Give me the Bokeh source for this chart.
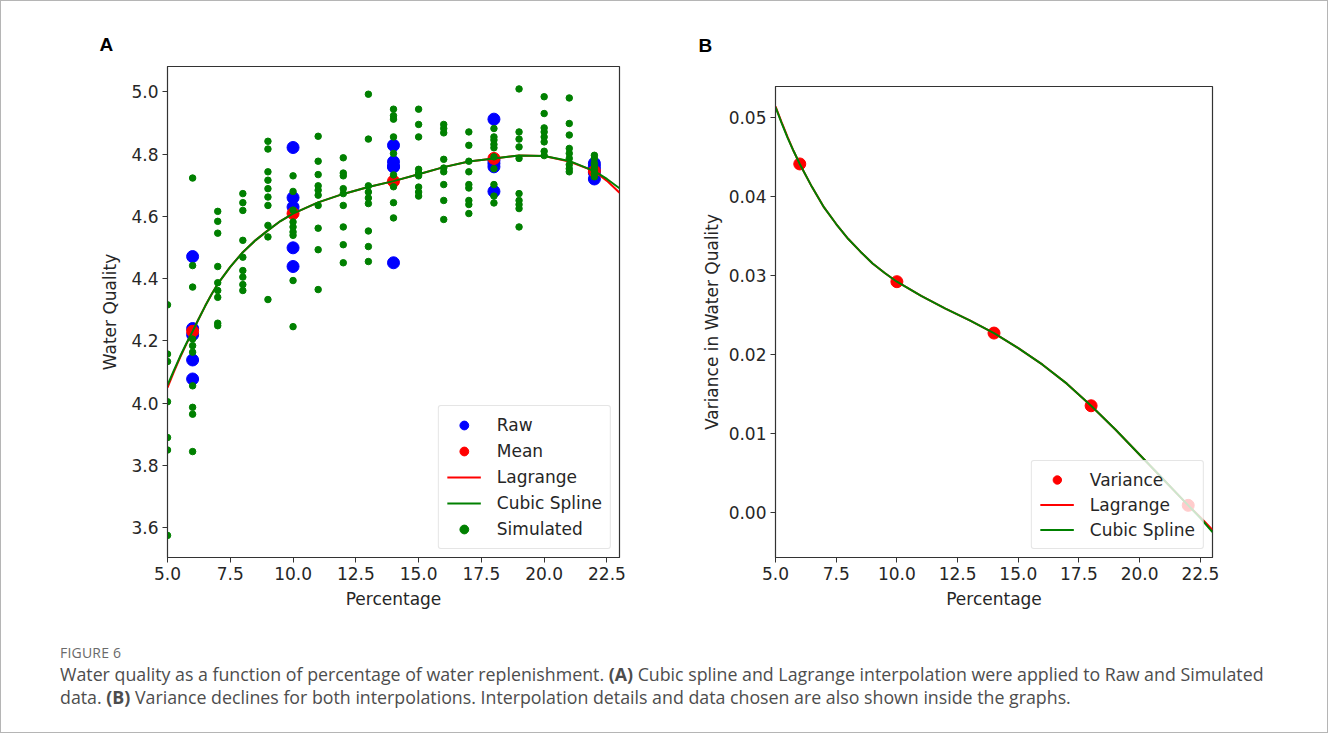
from bokeh.plotting import figure
from bokeh.models import Range1d, FixedTicker, NumeralTickFormatter, Div
from bokeh.layouts import row, column
from bokeh.embed import file_html
from bokeh.resources import INLINE

# ---------------- Panel A data ----------------
sim_pct = ([5] * 7 + [6] * 10 + [7] * 9 + [8] * 9 + [9] * 10 + [10] * 9 + [11] * 10 +
           [12] * 9 + [13] * 9 + [14] * 9 + [15] * 9 + [16] * 9 + [17] * 9 + [18] * 10 +
           [19] * 10 + [20] * 8 + [21] * 9 + [22] * 7)
sim_quality = [
    4.316, 4.158, 4.134, 4.005, 3.890, 3.850, 3.576,
    4.723, 4.442, 4.373, 4.206, 4.185, 4.164, 4.056, 3.987, 3.965, 3.845,
    4.616, 4.584, 4.546, 4.439, 4.387, 4.362, 4.340, 4.257, 4.249,
    4.673, 4.644, 4.619, 4.523, 4.469, 4.426, 4.405, 4.381, 4.362,
    4.841, 4.816, 4.743, 4.716, 4.689, 4.662, 4.635, 4.571, 4.534, 4.333,
    4.730, 4.680, 4.620, 4.582, 4.566, 4.550, 4.539, 4.394, 4.246,
    4.857, 4.777, 4.734, 4.698, 4.684, 4.668, 4.635, 4.562, 4.493, 4.365,
    4.788, 4.739, 4.730, 4.689, 4.673, 4.635, 4.566, 4.509, 4.451,
    4.992, 4.848, 4.698, 4.678, 4.659, 4.641, 4.553, 4.503, 4.455,
    4.944, 4.923, 4.912, 4.855, 4.802, 4.733, 4.695, 4.644, 4.595,
    4.944, 4.895, 4.855, 4.751, 4.739, 4.730, 4.694, 4.678, 4.665,
    4.895, 4.882, 4.868, 4.783, 4.755, 4.743, 4.702, 4.651, 4.590,
    4.871, 4.828, 4.777, 4.743, 4.702, 4.691, 4.651, 4.638, 4.609,
    4.882, 4.855, 4.845, 4.831, 4.820, 4.791, 4.753, 4.702, 4.665, 4.643,
    5.009, 4.871, 4.848, 4.823, 4.786, 4.673, 4.651, 4.638, 4.625, 4.566,
    4.984, 4.930, 4.884, 4.871, 4.855, 4.839, 4.809, 4.795,
    4.980, 4.898, 4.861, 4.818, 4.802, 4.786, 4.766, 4.753, 4.743,
    4.796, 4.786, 4.770, 4.759, 4.748, 4.737, 4.727,
]
raw_pct = [6] * 5 + [10] * 5 + [14] * 5 + [18] * 5 + [22] * 5
raw_quality = [
    4.471, 4.139, 4.078, 4.220, 4.240,
    4.821, 4.660, 4.499, 4.439, 4.630,
    4.828, 4.775, 4.759, 4.451, 4.760,
    4.912, 4.759, 4.680, 4.770, 4.780,
    4.760, 4.740, 4.720, 4.750, 4.770,
]
mean_pct = [6, 10, 14, 18, 22]
mean_quality = [4.231, 4.609, 4.713, 4.786, 4.745]

curveA_pct = [5, 5.25, 5.5, 5.75, 6, 6.25, 6.5, 6.75, 7, 7.5, 8, 8.5, 9, 9.5, 10,
              11, 12, 13, 14, 15, 16, 17, 18, 19, 20, 21, 22, 22.5, 23]
splineA = [4.058, 4.105, 4.150, 4.192, 4.231, 4.272, 4.312, 4.349, 4.383, 4.438,
           4.485, 4.523, 4.555, 4.585, 4.609, 4.645, 4.672, 4.694, 4.713, 4.735,
           4.758, 4.776, 4.786, 4.795, 4.794, 4.778, 4.745, 4.720, 4.690]
lagrangeA = [4.050, 4.100, 4.147, 4.190, 4.231, 4.272, 4.312, 4.349, 4.383, 4.438,
             4.485, 4.523, 4.555, 4.585, 4.609, 4.645, 4.672, 4.694, 4.713, 4.735,
             4.758, 4.776, 4.786, 4.795, 4.794, 4.776, 4.745, 4.714, 4.676]

# ---------------- Panel B data ----------------
var_pct = [6, 10, 14, 18, 22]
var_value = [0.0441, 0.0292, 0.0227, 0.0135, 0.0009]
curveB_pct = [5, 5.25, 5.5, 5.75, 6, 6.5, 7, 7.5, 8, 8.5, 9, 9.5, 10, 11, 12, 13,
              14, 15, 16, 17, 18, 19, 20, 21, 22, 22.5, 23]
splineB = [0.0513, 0.0493, 0.0474, 0.0457, 0.0441, 0.0412, 0.0386, 0.0365, 0.0346,
           0.0330, 0.0315, 0.0303, 0.0292, 0.0274, 0.0258, 0.0243, 0.0227, 0.0208,
           0.0187, 0.0163, 0.0135, 0.0105, 0.0073, 0.0041, 0.0009, -0.0007, -0.0025]
lagrangeB = [0.0514, 0.0494, 0.0475, 0.0457, 0.0441, 0.0412, 0.0386, 0.0365, 0.0346,
             0.0330, 0.0315, 0.0303, 0.0292, 0.0274, 0.0258, 0.0243, 0.0227, 0.0208,
             0.0187, 0.0163, 0.0135, 0.0105, 0.0073, 0.0041, 0.0009, -0.0006, -0.0022]

x_ticks = [5, 7.5, 10, 12.5, 15, 17.5, 20, 22.5]
yA_ticks = [3.6, 3.8, 4.0, 4.2, 4.4, 4.6, 4.8, 5.0]
yB_ticks = [0.0, 0.01, 0.02, 0.03, 0.04, 0.05]

FONT = "DejaVu Sans"
FS = "17px"
TXT = "#262626"
RED = "#ff0000"
GREEN = "#008000"
BLUE = "#0000ff"


def style(p, xt, yt, yfmt, xlab, ylab, ylab_standoff):
    p.xaxis.ticker = FixedTicker(ticks=xt)
    p.yaxis.ticker = FixedTicker(ticks=yt)
    p.xaxis.formatter = NumeralTickFormatter(format="0.0")
    p.yaxis.formatter = NumeralTickFormatter(format=yfmt)
    p.xaxis.axis_label = xlab
    p.yaxis.axis_label = ylab
    for ax in (p.xaxis[0], p.yaxis[0]):
        ax.axis_label_text_font = FONT
        ax.axis_label_text_font_style = "normal"
        ax.axis_label_text_font_size = FS
        ax.axis_label_text_color = TXT
        ax.major_label_text_font = FONT
        ax.major_label_text_font_size = FS
        ax.major_label_text_color = TXT
        ax.major_tick_out = 5
        ax.major_tick_in = 0
        ax.minor_tick_line_color = None
        ax.axis_line_color = "#333333"
        ax.major_tick_line_color = "#333333"
        ax.major_label_standoff = 4
    p.yaxis.axis_label_standoff = ylab_standoff
    p.xaxis.axis_label_standoff = 6
    p.grid.visible = False
    p.outline_line_color = "#333333"
    p.outline_line_width = 1.2
    p.background_fill_color = "white"
    p.border_fill_color = "white"


def style_legend(p, glyph_h):
    lg = p.legend[0]
    lg.location = "bottom_right"
    lg.margin = 8
    lg.padding = 8
    lg.spacing = 4
    lg.glyph_width = 34
    lg.glyph_height = glyph_h
    lg.label_height = glyph_h
    lg.label_standoff = 16
    lg.label_text_font = FONT
    lg.label_text_font_size = FS
    lg.label_text_color = TXT
    lg.border_line_color = "#cccccc"
    lg.border_line_width = 1
    lg.background_fill_alpha = 0.8
    lg.border_radius = 3


# ---------------- Panel A ----------------
pA = figure(width=660, height=621, output_backend="svg", toolbar_location=None,
            x_range=Range1d(5, 23), y_range=Range1d(3.505, 5.081),
            min_border_left=166, min_border_right=42, min_border_top=65,
            min_border_bottom=65, title="A")
pA.scatter(raw_pct, raw_quality, size=12, color=BLUE, legend_label="Raw")
pA.scatter(mean_pct, mean_quality, size=12, color=RED, legend_label="Mean")
pA.line(curveA_pct, lagrangeA, line_color=RED, line_width=2, legend_label="Lagrange")
pA.line(curveA_pct, splineA, line_color=GREEN, line_width=2, legend_label="Cubic Spline")
pA.scatter(sim_pct, sim_quality, size=6.5, color=GREEN, legend_label="Simulated")
style(pA, x_ticks, yA_ticks, "0.0", "Percentage", "Water Quality", 8)
style_legend(pA, 22)

# ---------------- Panel B ----------------
pB = figure(width=656, height=621, output_backend="svg", toolbar_location=None,
            x_range=Range1d(5, 23), y_range=Range1d(-0.0057, 0.0539),
            min_border_left=114, min_border_right=105, min_border_top=84,
            min_border_bottom=65, title="B")
pB.scatter(var_pct, var_value, size=12, color=RED, legend_label="Variance")
pB.line(curveB_pct, lagrangeB, line_color=RED, line_width=2, legend_label="Lagrange")
pB.line(curveB_pct, splineB, line_color=GREEN, line_width=2, legend_label="Cubic Spline")
style(pB, x_ticks, yB_ticks, "0.00", "Percentage", "Variance in Water Quality", 4)
style_legend(pB, 21)

for p, off, so in ((pA, -68, 24), (pB, -77, 62)):
    p.title.align = "left"
    p.title.offset = off
    p.title.standoff = so
    p.title.text_font = "Liberation Sans"
    p.title.text_font_size = "19px"
    p.title.text_font_style = "bold"
    p.title.text_color = "#000000"

caption = Div(width=1316, height=100, text=(
    '<div style="margin-left:54px;margin-top:16px;font-family:\'Open Sans\',sans-serif;">'
    '<div style="font-size:14px;color:#6a6a6a;letter-spacing:0.2px;line-height:20px;">FIGURE 6</div>'
    '<div style="font-size:17.8px;color:#4d4d4d;line-height:23px;white-space:nowrap;">'
    'Water quality as a function of percentage of water replenishment. <b>(A)</b> Cubic spline and '
    'Lagrange interpolation were applied to Raw and Simulated<br>'
    'data. <b>(B)</b> Variance declines for both interpolations. Interpolation details and data '
    'chosen are also shown inside the graphs.</div></div>'))

layout = column(row(column(pA), column(pB)), caption,
                styles={"border": "1px solid #b5b5b5"})

open("out.html", "w").write(file_html(layout, INLINE))
